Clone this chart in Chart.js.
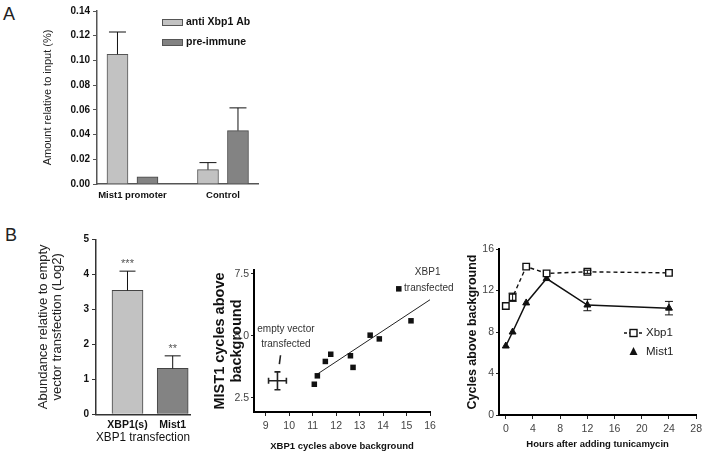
<!DOCTYPE html>
<html>
<head>
<meta charset="utf-8">
<script src="https://cdn.jsdelivr.net/npm/chart.js@4.4.0/dist/chart.umd.min.js"></script>
<style>
  body { margin: 0; background: #fff; }
  #wrap { position: relative; width: 706px; height: 457px; overflow: hidden; background: #fff; }
  canvas { position: absolute; }
  .panel { position: absolute; font-family: Arial, "Liberation Sans", sans-serif; font-size: 18px; line-height: 18px; color: #222; }
</style>
</head>
<body>
<div id="wrap">
  <div class="panel" style="left:3px;top:5px">A</div>
  <div class="panel" style="left:5px;top:226px">B</div>
  <canvas id="chartA" width="270" height="215" style="left:0;top:0"></canvas>
  <canvas id="chartBL" width="200" height="232" style="left:0;top:225px"></canvas>
  <canvas id="chartBM" width="260" height="232" style="left:205px;top:225px"></canvas>
  <canvas id="chartBR" width="246" height="232" style="left:460px;top:225px"></canvas>
</div>
<script>
const SANS = 'Arial, "Liberation Sans", Helvetica, sans-serif';

// panel A : ChIP
const groupsA = ['Mist1 promoter', 'Control'];
const antiXbp1 = [0.105, 0.0116];
const antiXbp1Err = [0.018, 0.0057];
const preImmune = [0.0059, 0.0432];
const preImmuneErr = [0, 0.0184];
const ticksA = [0, 0.02, 0.04, 0.06, 0.08, 0.10, 0.12, 0.14];

// panel B left : transfection
const groupsB = ['XBP1(s)', 'Mist1'];
const abundance = [3.54, 1.31];
const abundanceErr = [0.55, 0.36];
const stars = ['***', '**'];
const ticksB = [0, 1, 2, 3, 4, 5];

// panel B middle : scatter
const xbp1Cycles = [11.07, 11.2, 11.54, 11.77, 12.61, 12.72, 13.45, 13.84, 14.67, 15.19];
const mist1Cycles = [3.05, 3.39, 3.97, 4.26, 4.2, 3.73, 5.03, 4.88, 6.9, 5.61];
const fitX = [11.2, 16];
const fitY = [3.46, 6.46];
const emptyX = [9.5];
const emptyY = [3.19];
const emptyXErr = [0.38];
const emptyYErr = [0.36];
const ticksMidX = [9, 10, 11, 12, 13, 14, 15, 16];
const ticksMidY = [2.5, 5.0, 7.5];

// panel B right : time course
const hours = [0, 1, 3, 6, 12, 24];
const xbp1Time = [10.5, 11.35, 14.3, 13.65, 13.8, 13.7];
const xbp1TimeErr = [0, 0.4, 0, 0, 0.15, 0];
const mist1Time = [6.65, 8.0, 10.8, 13.15, 10.6, 10.3];
const mist1TimeErr = [0, 0, 0, 0, 0.55, 0.65];
const hourTicks = [0, 4, 8, 12, 16, 20, 24, 28];
const cycleTicks = [0, 4, 8, 12, 16];

const toPts = (xs, ys) => xs.map((x, i) => ({x: x, y: ys[i]}));

// error bars, read from dataset.yErr / dataset.xErr
const errorBarPlugin = {
  id: 'errorBars',
  afterDatasetsDraw(chart) {
    const ctx = chart.ctx;
    chart.data.datasets.forEach((ds, di) => {
      if (!ds.yErr && !ds.xErr) return;
      const meta = chart.getDatasetMeta(di);
      const xs = chart.scales[meta.xAxisID], ys = chart.scales[meta.yAxisID];
      const cap = ds.errCap || 4;
      ctx.save();
      ctx.strokeStyle = ds.errColor || '#111';
      ctx.lineWidth = ds.errWidth || 1;
      ds.data.forEach((p, i) => {
        const cx = meta.data[i].x, cy = ys.getPixelForValue(p.y);
        const ye = ds.yErr ? ds.yErr[i] : 0;
        const xe = ds.xErr ? ds.xErr[i] : 0;
        ctx.beginPath();
        if (ye) {
          const top = ys.getPixelForValue(p.y + ye);
          const bot = ds.upOnly ? cy : ys.getPixelForValue(p.y - ye);
          ctx.moveTo(cx, bot); ctx.lineTo(cx, top);
          ctx.moveTo(cx - cap, top); ctx.lineTo(cx + cap, top);
          if (!ds.upOnly) { ctx.moveTo(cx - cap, bot); ctx.lineTo(cx + cap, bot); }
        }
        if (xe) {
          const l = xs.getPixelForValue(p.x - xe), r = xs.getPixelForValue(p.x + xe);
          ctx.moveTo(l, cy); ctx.lineTo(r, cy);
          ctx.moveTo(l, cy - cap); ctx.lineTo(l, cy + cap);
          ctx.moveTo(r, cy - cap); ctx.lineTo(r, cy + cap);
        }
        ctx.stroke();
      });
      ctx.restore();
    });
  }
};

function fixSize(w, h) {
  return s => { if (w != null) s.width = w; if (h != null) s.height = h; };
}
function setTicks(list) {
  return s => { s.ticks = list.map(v => ({value: v})); };
}

// ---------- A ----------
const legendA = {
  id: 'legendA',
  afterDraw(chart) {
    const ctx = chart.ctx;
    ctx.save();
    chart.data.datasets.forEach((ds, i) => {
      const y = 19 + i * 20;
      ctx.fillStyle = ds.backgroundColor;
      ctx.fillRect(162, y, 21, 7);
      ctx.strokeStyle = '#555';
      ctx.lineWidth = 1;
      ctx.strokeRect(162.5, y + 0.5, 20, 6);
      ctx.fillStyle = '#111';
      ctx.font = 'bold 10.5px ' + SANS;
      ctx.textBaseline = 'middle';
      ctx.fillText(ds.label, 186, y + 3.5);
    });
    ctx.restore();
  }
};

new Chart(document.getElementById('chartA'), {
  type: 'bar',
  data: {
    datasets: [
      { label: 'anti Xbp1 Ab', data: toPts([0, 1], antiXbp1), yErr: antiXbp1Err, upOnly: true, errCap: 8.5,
        backgroundColor: '#c2c2c2', borderColor: '#555', borderWidth: 1, barThickness: 30, maxBarThickness: 21 },
      { label: 'pre-immune', data: toPts([0, 1], preImmune), yErr: preImmuneErr, upOnly: true, errCap: 8.5,
        backgroundColor: '#838383', borderColor: '#444', borderWidth: 1, barThickness: 30, maxBarThickness: 21 }
    ]
  },
  options: {
    responsive: false, animation: false,
    layout: { padding: { top: 11, right: 12, left: 0, bottom: 0 }, autoPadding: false },
    plugins: { legend: { display: false }, tooltip: { enabled: false } },
    scales: {
      x: {
        type: 'linear', min: -0.392, max: 1.387, offset: false,
        afterFit: fixSize(null, 31), afterBuildTicks: setTicks([0, 1]),
        ticks: { callback: v => groupsA[v], font: { family: SANS, size: 9.5, weight: 'bold' }, color: '#111', padding: 6, maxRotation: 0, autoSkip: false },
        grid: { display: false, drawTicks: false, offset: false },
        border: { color: '#555', width: 1.5 }
      },
      y: {
        min: 0, max: 0.14,
        afterFit: fixSize(97, null), afterBuildTicks: setTicks(ticksA),
        ticks: { callback: v => v.toFixed(2), font: { family: SANS, size: 10, weight: 'bold' }, color: '#111', padding: 3 },
        grid: { drawOnChartArea: false, tickLength: 4, color: '#555' },
        border: { color: '#555', width: 1.5 },
        title: { display: true, text: 'Amount relative to input (%)', font: { family: SANS, size: 11 }, color: '#222', padding: { top: 41, bottom: 0 } }
      }
    }
  },
  plugins: [errorBarPlugin, legendA]
});

// ---------- B left ----------
const starPlugin = {
  id: 'stars',
  afterDraw(chart) {
    const ctx = chart.ctx, ys = chart.scales.y;
    const meta = chart.getDatasetMeta(0);
    ctx.save();
    ctx.fillStyle = '#555';
    ctx.font = '11px ' + SANS;
    ctx.textAlign = 'center';
    ctx.textBaseline = 'middle';
    stars.forEach((s, i) => {
      ctx.fillText(s, meta.data[i].x, ys.getPixelForValue(abundance[i] + abundanceErr[i]) - 7);
    });
    ctx.restore();
  }
};

new Chart(document.getElementById('chartBL'), {
  type: 'bar',
  data: {
    datasets: [
      { label: 'XBP1 transfection', data: toPts([0, 1], abundance), yErr: abundanceErr, upOnly: true, errCap: 8,
        backgroundColor: ['#c2c2c2', '#838383'], borderColor: '#444', borderWidth: 1, barThickness: 31 }
    ]
  },
  options: {
    responsive: false, animation: false,
    layout: { padding: { top: 14.3, right: 10, left: 0, bottom: 0 }, autoPadding: false },
    plugins: { legend: { display: false }, tooltip: { enabled: false } },
    scales: {
      x: {
        type: 'linear', min: -0.697, max: 1.383, offset: false,
        afterFit: fixSize(null, 42.7), afterBuildTicks: setTicks([0, 1]),
        ticks: { callback: v => groupsB[v], font: { family: SANS, size: 10.5, weight: 'bold' }, color: '#111', padding: 5, maxRotation: 0, autoSkip: false },
        grid: { display: false, drawTicks: false, offset: false },
        border: { color: '#333', width: 1.5 },
        title: { display: true, text: 'XBP1 transfection', font: { family: SANS, size: 12.5 }, color: '#111', padding: { top: 0, bottom: 11.5 } }
      },
      y: {
        min: 0, max: 5,
        afterFit: fixSize(96, null), afterBuildTicks: setTicks(ticksB),
        ticks: { font: { family: SANS, size: 10, weight: 'bold' }, color: '#111', padding: 3 },
        grid: { drawOnChartArea: false, tickLength: 4, color: '#333' },
        border: { color: '#333', width: 1.5 },
        title: { display: true, text: ['Abundance relative to empty', 'vector transfection (Log2)'], font: { family: SANS, size: 13, lineHeight: 1.1 }, color: '#222', padding: { top: 36, bottom: 0 } }
      }
    }
  },
  plugins: [errorBarPlugin, starPlugin]
});

// ---------- B middle ----------
const notesMid = {
  id: 'notesMid',
  afterDraw(chart) {
    const ctx = chart.ctx, xs = chart.scales.x, ys = chart.scales.y;
    const put = (t, x, y) => ctx.fillText(t, xs.getPixelForValue(x), ys.getPixelForValue(y));
    ctx.save();
    ctx.fillStyle = '#333';
    ctx.font = '10px ' + SANS;
    ctx.textAlign = 'center';
    ctx.textBaseline = 'middle';
    put('empty vector', 9.86, 5.27);
    put('transfected', 9.86, 4.67);
    put('XBP1', 15.9, 7.58);
    put('transfected', 15.95, 6.93);
    ctx.strokeStyle = '#222';
    ctx.lineWidth = 1.6;
    ctx.beginPath();
    ctx.moveTo(xs.getPixelForValue(9.63), ys.getPixelForValue(4.22));
    ctx.lineTo(xs.getPixelForValue(9.58), ys.getPixelForValue(3.86));
    ctx.stroke();
    ctx.restore();
  }
};

new Chart(document.getElementById('chartBM'), {
  type: 'scatter',
  data: {
    datasets: [
      { label: 'XBP1 transfected', data: toPts(xbp1Cycles, mist1Cycles), pointStyle: 'rect', pointRadius: 3.9,
        backgroundColor: '#111', borderColor: '#111', borderWidth: 0 },
      { type: 'line', label: 'fit', data: toPts(fitX, fitY), borderColor: '#222', borderWidth: 1, pointRadius: 0, fill: false },
      { label: 'empty vector transfected', data: toPts(emptyX, emptyY), pointRadius: 0,
        xErr: emptyXErr, yErr: emptyYErr, errWidth: 1.6, errCap: 3, errColor: '#222' }
    ]
  },
  options: {
    responsive: false, animation: false,
    layout: { padding: { top: 45, right: 35, left: 0, bottom: 0 }, autoPadding: false },
    plugins: { legend: { display: false }, tooltip: { enabled: false } },
    scales: {
      x: {
        type: 'linear', min: 8.5, max: 16,
        afterFit: fixSize(null, 45), afterBuildTicks: setTicks(ticksMidX),
        ticks: { font: { family: SANS, size: 10.5 }, color: '#444', padding: 4 },
        grid: { drawOnChartArea: false, tickLength: 4, color: '#222' },
        border: { color: '#000', width: 2 },
        title: { display: true, text: 'XBP1 cycles above background', font: { family: SANS, size: 9.5, weight: 'bold' }, color: '#111', padding: { top: 0, bottom: 5 } }
      },
      y: {
        type: 'linear', min: 1.93, max: 7.66,
        afterFit: fixSize(49, null), afterBuildTicks: setTicks(ticksMidY),
        ticks: { callback: v => v.toFixed(1), font: { family: SANS, size: 10.5 }, color: '#444', padding: 2 },
        grid: { drawOnChartArea: false, tickLength: 3, color: '#222' },
        border: { color: '#000', width: 2 },
        title: { display: true, text: ['MIST1 cycles above', 'background'], font: { family: SANS, size: 14.5, weight: 'bold', lineHeight: 1.15 }, color: '#111', padding: { top: 6.7, bottom: 0 } }
      }
    }
  },
  plugins: [errorBarPlugin, notesMid]
});

// ---------- B right ----------
const legendBR = {
  id: 'legendBR',
  afterDraw(chart) {
    const ctx = chart.ctx, a = chart.chartArea;
    const x0 = a.left + 125, y0 = a.top + 84;
    ctx.save();
    ctx.strokeStyle = '#111';
    ctx.lineWidth = 1.4;
    ctx.setLineDash([3, 2]);
    ctx.beginPath(); ctx.moveTo(x0, y0); ctx.lineTo(x0 + 19, y0); ctx.stroke();
    ctx.setLineDash([]);
    ctx.fillStyle = '#fff';
    ctx.fillRect(x0 + 6, y0 - 3.5, 7, 7);
    ctx.strokeRect(x0 + 6, y0 - 3.5, 7, 7);
    ctx.fillStyle = '#111';
    ctx.beginPath();
    ctx.moveTo(x0 + 9.5, y0 + 14); ctx.lineTo(x0 + 13.5, y0 + 22); ctx.lineTo(x0 + 5.5, y0 + 22); ctx.closePath();
    ctx.fill();
    ctx.font = '11.5px ' + SANS;
    ctx.textBaseline = 'middle';
    ctx.fillStyle = '#222';
    ctx.fillText(chart.data.datasets[0].label, x0 + 22, y0);
    ctx.fillText(chart.data.datasets[1].label, x0 + 22, y0 + 19);
    ctx.restore();
  }
};

new Chart(document.getElementById('chartBR'), {
  type: 'line',
  data: {
    datasets: [
      { label: 'Xbp1', data: toPts(hours, xbp1Time), yErr: xbp1TimeErr, errCap: 4,
        borderColor: '#111', borderWidth: 1.4, borderDash: [4, 3], tension: 0,
        pointStyle: 'rect', pointRadius: 4.6, pointBackgroundColor: '#fff', pointBorderColor: '#111', pointBorderWidth: 1.4 },
      { label: 'Mist1', data: toPts(hours, mist1Time), yErr: mist1TimeErr, errCap: 4,
        borderColor: '#111', borderWidth: 1.5, tension: 0,
        pointStyle: 'triangle', pointRadius: 4, pointBackgroundColor: '#111', pointBorderColor: '#111', pointBorderWidth: 1 }
    ]
  },
  options: {
    responsive: false, animation: false,
    layout: { padding: { top: 24, right: 7, left: 0, bottom: 0 }, autoPadding: false },
    plugins: { legend: { display: false }, tooltip: { enabled: false } },
    scales: {
      x: {
        type: 'linear', min: -1, max: 28,
        afterFit: fixSize(null, 42), afterBuildTicks: setTicks(hourTicks),
        ticks: { font: { family: SANS, size: 10.5 }, color: '#444', padding: 4 },
        grid: { drawOnChartArea: false, tickLength: 4, color: '#222' },
        border: { color: '#000', width: 2 },
        title: { display: true, text: 'Hours after adding tunicamycin', font: { family: SANS, size: 9.5, weight: 'bold' }, color: '#111', padding: { top: 0, bottom: 7 } }
      },
      y: {
        type: 'linear', min: 0, max: 16,
        afterFit: fixSize(39, null), afterBuildTicks: setTicks(cycleTicks),
        ticks: { font: { family: SANS, size: 10.5 }, color: '#444', padding: 2 },
        grid: { drawOnChartArea: false, tickLength: 3, color: '#222' },
        border: { color: '#000', width: 2 },
        title: { display: true, text: 'Cycles above background', font: { family: SANS, size: 12.5, weight: 'bold' }, color: '#111', padding: { top: 5.5, bottom: 0 } }
      }
    }
  },
  plugins: [errorBarPlugin, legendBR]
});
</script>
</body>
</html>
